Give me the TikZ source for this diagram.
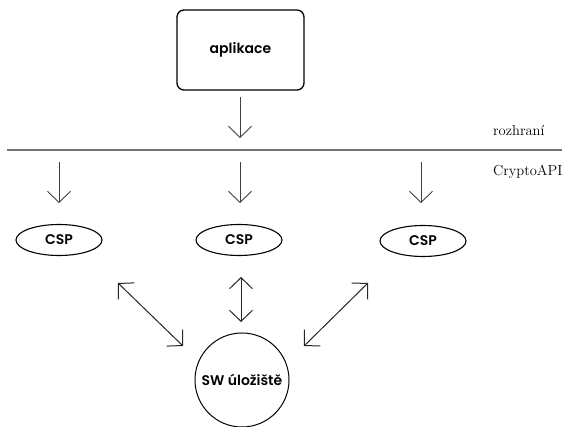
\documentclass[tikz,border=0pt]{standalone}
\usepackage{fontspec}
\newfontfamily\boldsans{Poppins}[UprightFont=* SemiBold]
\usetikzlibrary{arrows.meta,shapes.geometric}
\tikzset{
  lbl/.style={font=\boldsans\fontsize{14}{16}\selectfont},
  serif/.style={font=\fontsize{14.5}{16}\selectfont, anchor=west, inner sep=0},
  csp/.style={draw, ellipse, line width=1.1pt, minimum width=86pt, minimum height=31pt, lbl},
  flow/.style={draw=black!75, line width=0.9pt, -{Straight Barb[length=11pt,width=23pt]}},
  both/.style={draw=black!85, line width=1pt, {Straight Barb[length=11pt,width=23pt]}-{Straight Barb[length=11pt,width=23pt]}},
}
\begin{document}
\begin{tikzpicture}[x=1pt,y=-1pt]
\useasboundingbox (0,0) rectangle (566,427);
\node[draw, rounded corners=7pt, line width=1.3pt, minimum width=127pt, minimum height=80pt, lbl] (app) at (240.5,50) {aplikace};
\draw[draw=black!55, line width=1.4pt] (7,150) coordinate (l0) -- (562,150) coordinate (l1);
\node[serif] (roz) at (493,131) {rozhraní};
\node[serif] (capi) at (493,172) {CryptoAPI};
\coordinate (a0) at (240,97); \coordinate (a1) at (240,138);
\draw[flow] (a0) -- (a1);
\node[csp] (c1) at (59,240) {CSP};
\node[csp] (c2) at (239,240) {CSP};
\node[csp] (c3) at (423,241) {CSP};
\foreach \n/\x in {1/59,2/240,3/421}{
  \coordinate (t\n) at (\x,162);
  \coordinate (b\n) at (\x,203);
  \draw[flow] (t\n) -- (b\n);
}
\node[draw, circle, line width=1pt, minimum size=94pt, inner sep=0, lbl] (sw) at (242,380) {SW úložiště};
\coordinate (d1a) at (118,283); \coordinate (d1b) at (183,346);
\coordinate (d2a) at (241,277); \coordinate (d2b) at (241,322);
\coordinate (d3a) at (368,283); \coordinate (d3b) at (304,346);
\draw[both] (d1a) -- (d1b);
\draw[both] (d2a) -- (d2b);
\draw[both] (d3a) -- (d3b);
\end{tikzpicture}
\end{document}
